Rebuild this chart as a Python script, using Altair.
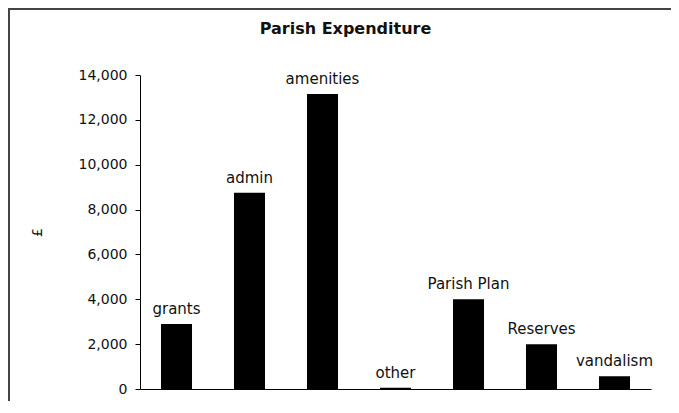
import altair as alt
import pandas as pd

categories = ["grants", "admin", "amenities", "other", "Parish Plan", "Reserves", "vandalism"]
values = [2900, 8750, 13150, 60, 4000, 2000, 570]
y_ticks = [0, 2000, 4000, 6000, 8000, 10000, 12000, 14000]

df = pd.DataFrame({"category": categories, "value": values})

FONT = "DejaVu Sans"

x_enc = alt.X(
    "category:N",
    sort=categories,
    scale=alt.Scale(paddingInner=0.575, paddingOuter=0.2875),
    axis=alt.Axis(title=None, labels=False, ticks=False, domain=True,
                  domainColor="black", domainWidth=1),
)
y_enc = alt.Y(
    "value:Q",
    scale=alt.Scale(domain=[0, 14000], nice=False),
    axis=alt.Axis(values=y_ticks, format=",d", title="£", grid=False,
                  tickSize=5, tickColor="black", domainColor="black",
                  labelPadding=8, labelFont=FONT, labelFontSize=14,
                  labelColor="#111", titleFont=FONT, titleFontSize=14,
                  titleFontWeight="normal", titleColor="#111",
                  titlePadding=34),
)

bars = alt.Chart(df).mark_bar(color="black").encode(x=x_enc, y=y_enc)

labels = alt.Chart(df).mark_text(
    font=FONT, fontSize=15, baseline="alphabetic", dy=-10, color="#111"
).encode(x=alt.X("category:N", sort=categories), y="value:Q", text="category:N")

frame_data = alt.Data(values=[{"k": 1}])
frame = alt.Chart(frame_data).mark_rect(
    fill="white", fillOpacity=0, stroke="#444", strokeWidth=2
).encode(
    x=alt.value(-131), x2=alt.value(560), y=alt.value(-66), y2=alt.value(360)
)

chart = alt.layer(frame, bars, labels).properties(
    width=511,
    height=314,
    autosize=alt.AutoSizeParams(type="none"),
    padding={"left": 132, "top": 67, "right": 20, "bottom": 12},
    title=alt.TitleParams(
        "Parish Expenditure", font=FONT, fontSize=16, fontWeight="bold",
        anchor="middle", frame="group", dx=-50, baseline="alphabetic",
        offset=-42, color="#111",
    ),
).configure_view(stroke=None)

chart.save("out.html", embed_options={"renderer": "svg", "actions": False})
